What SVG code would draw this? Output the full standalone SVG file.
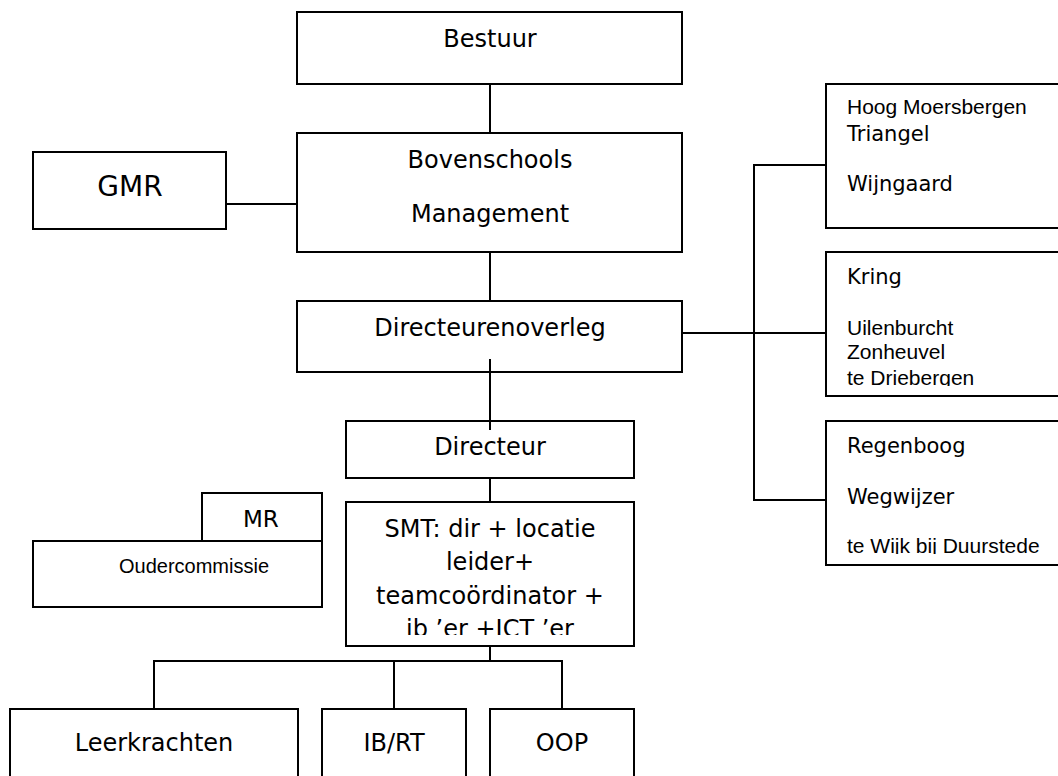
<svg xmlns="http://www.w3.org/2000/svg" width="1058" height="776" viewBox="0 0 1058 776">
<style>
.box{fill:#fff;stroke:#000;stroke-width:2}
.ln{stroke:#000;stroke-width:2;fill:none}
.v{font-family:"DejaVu Sans",Verdana,sans-serif;font-size:24px;fill:#000}
.vs{font-family:"DejaVu Sans",Verdana,sans-serif;font-size:21px;fill:#000}
.a{font-family:"Liberation Sans",Arial,sans-serif;font-size:21px;fill:#000}
.c{text-anchor:middle}
</style>
<defs>
<clipPath id="clipSmt"><rect x="346" y="502" width="288" height="133"/></clipPath>
<clipPath id="clipKring"><rect x="826" y="252" width="240" height="134"/></clipPath>
<clipPath id="clipRegen"><rect x="826" y="421" width="240" height="133"/></clipPath>
</defs>
<rect width="1058" height="776" fill="#fff"/>

<g id="bestuur"><rect class="box" x="297" y="12" width="385" height="72"/><text class="v c" x="490" y="47">Bestuur</text></g>
<g id="bovenschools"><rect class="box" x="297" y="133" width="385" height="119"/><text class="v c" x="490" y="168">Bovenschools</text><text class="v c" x="490" y="222">Management</text></g>
<g id="gmr"><rect class="box" x="33" y="152" width="193" height="77"/><text class="v c" x="130" y="196" style="font-size:28px">GMR</text></g>
<g id="directeurenoverleg"><rect class="box" x="297" y="301" width="385" height="71"/><text class="v c" x="490" y="336">Directeurenoverleg</text></g>
<g id="directeur"><rect class="box" x="346" y="421" width="288" height="57"/><text class="v c" x="490" y="455">Directeur</text></g>
<g id="smt"><rect class="box" x="346" y="502" width="288" height="144"/>
<g clip-path="url(#clipSmt)"><text class="v c" x="490" y="537">SMT: dir + locatie</text><text class="v c" x="490" y="570">leider+</text><text class="v c" x="490" y="604">teamcoördinator +</text><text class="v c" x="490" y="637">ib ’er +ICT ’er</text></g></g>
<g id="mr"><rect class="box" x="202" y="493" width="120" height="48"/><text class="v" x="243" y="527" style="font-size:23px">MR</text></g>
<g id="oudercommissie"><rect class="box" x="33" y="541" width="289" height="66"/><text class="a" x="119" y="573" style="font-size:20px">Oudercommissie</text></g>

<g id="scholen1"><rect class="box" x="826" y="84" width="244" height="144"/><text class="a" x="847" y="114">Hoog Moersbergen</text><text class="vs" x="847" y="141">Triangel</text><text class="vs" x="847" y="191">Wijngaard</text></g>
<g id="scholen2"><rect class="box" x="826" y="252" width="244" height="144"/><text class="vs" x="847" y="284">Kring</text>
<g clip-path="url(#clipKring)"><text class="a" x="847" y="335">Uilenburcht</text><text class="a" x="847" y="359">Zonheuvel</text><text class="a" x="847" y="385">te Driebergen</text></g></g>
<g id="scholen3"><rect class="box" x="826" y="421" width="244" height="144"/><text class="vs" x="847" y="453">Regenboog</text><text class="vs" x="847" y="504">Wegwijzer</text>
<g clip-path="url(#clipRegen)"><text class="a" x="847" y="553">te Wijk bij Duurstede</text></g></g>

<g id="leerkrachten"><rect class="box" x="10" y="709" width="288" height="90"/><text class="v c" x="154" y="751">Leerkrachten</text></g>
<g id="ibrt"><rect class="box" x="322" y="709" width="144" height="90"/><text class="v c" x="394" y="751">IB/RT</text></g>
<g id="oop"><rect class="box" x="490" y="709" width="144" height="90"/><text class="v c" x="562" y="751">OOP</text></g>

<g id="connectors">
<line class="ln" x1="490" y1="84" x2="490" y2="133"/>
<line class="ln" x1="226" y1="204" x2="297" y2="204"/>
<line class="ln" x1="490" y1="252" x2="490" y2="301"/>
<line class="ln" x1="490" y1="359" x2="490" y2="430"/>
<line class="ln" x1="682" y1="333" x2="826" y2="333"/>
<polyline class="ln" points="826,165 754,165 754,500 826,500"/>
<line class="ln" x1="490" y1="478" x2="490" y2="502"/>
<line class="ln" x1="490" y1="646" x2="490" y2="661"/>
<polyline class="ln" points="154,709 154,661 562,661 562,709"/>
<line class="ln" x1="394" y1="661" x2="394" y2="709"/>
</g>
</svg>
